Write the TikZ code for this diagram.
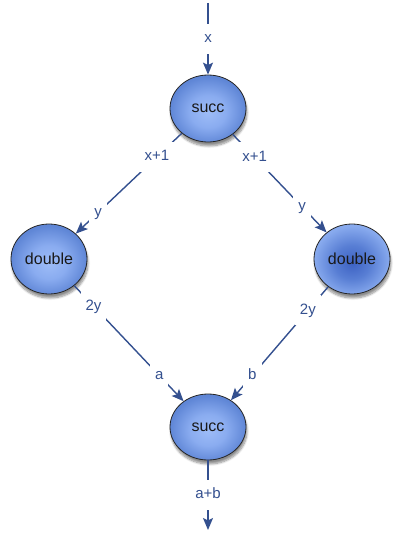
\documentclass[tikz,border=0pt]{standalone}
\usepackage{fontspec}
\setmainfont{Liberation Sans}
\usetikzlibrary{shapes.geometric,arrows.meta,shadows.blur}
\definecolor{edgeblue}{HTML}{34508F}
\definecolor{ballc}{HTML}{9DBCF7}
\definecolor{ballm}{HTML}{8AACF0}
\definecolor{ballr}{HTML}{5F86D6}
\definecolor{dballc}{HTML}{3D62C3}
\definecolor{dballm}{HTML}{587ED4}
\definecolor{dballr}{HTML}{88AAEE}
\pgfdeclareradialshading{lightball}{\pgfpoint{0bp}{-3bp}}{color(0bp)=(ballc); color(12bp)=(ballm); color(25bp)=(ballr); color(50bp)=(ballr)}
\pgfdeclareradialshading{darkball}{\pgfpoint{0bp}{-3bp}}{color(0bp)=(dballc); color(12bp)=(dballm); color(25bp)=(dballr); color(50bp)=(dballr)}
\begin{document}
\begin{tikzpicture}[x=1pt,y=-1pt,
  fn/.style={ellipse, draw=black!85, line width=0.8pt, minimum width=76pt, minimum height=66pt, inner sep=0pt,
    font=\fontsize{16}{18}\selectfont, text=black!90,
    blur shadow={shadow xshift=1pt, shadow yshift=-4pt, shadow blur steps=8, shadow opacity=45}},
  lightfn/.style={fn, shading=lightball},
  darkfn/.style={fn, shading=darkball},
  conn/.style={draw=edgeblue, line width=1.4pt, -{Stealth[length=12pt,width=10pt,inset=2.5pt]}},
  lbl/.style={fill=white, text=edgeblue, font=\fontsize{15}{18}\selectfont, inner xsep=5pt, inner ysep=8pt,
    text height=11pt, text depth=3pt}
]
\useasboundingbox (0,0) rectangle (400,535);
\node[lightfn, minimum height=67pt] (top) at (208,108.5) {succ};
\node[lightfn, minimum height=70pt] (ld) at (49,259) {double};
\node[darkfn, minimum height=70pt] (rd) at (352,259) {double};
\node[lightfn] (bot) at (208,427) {succ};
\coordinate (in) at (208,3);
\coordinate (out) at (208,530);
\draw[conn] (in) -- node[lbl,pos=.5]{x} (top);
\draw[conn] (top) -- node[lbl,pos=.235]{x+1} node[lbl,pos=.79]{y} (ld);
\draw[conn] (top) -- node[lbl,pos=.233]{x+1} node[lbl,pos=.74]{y} (rd);
\draw[conn] (ld) -- node[lbl,pos=.176]{2y} node[lbl,pos=.777]{a} (bot);
\draw[conn] (rd) -- node[lbl,pos=.209]{2y} node[lbl,pos=.78]{b} (bot);
\draw[conn] (bot) -- node[lbl,pos=.49]{a+b} (out);
\end{tikzpicture}
\end{document}
